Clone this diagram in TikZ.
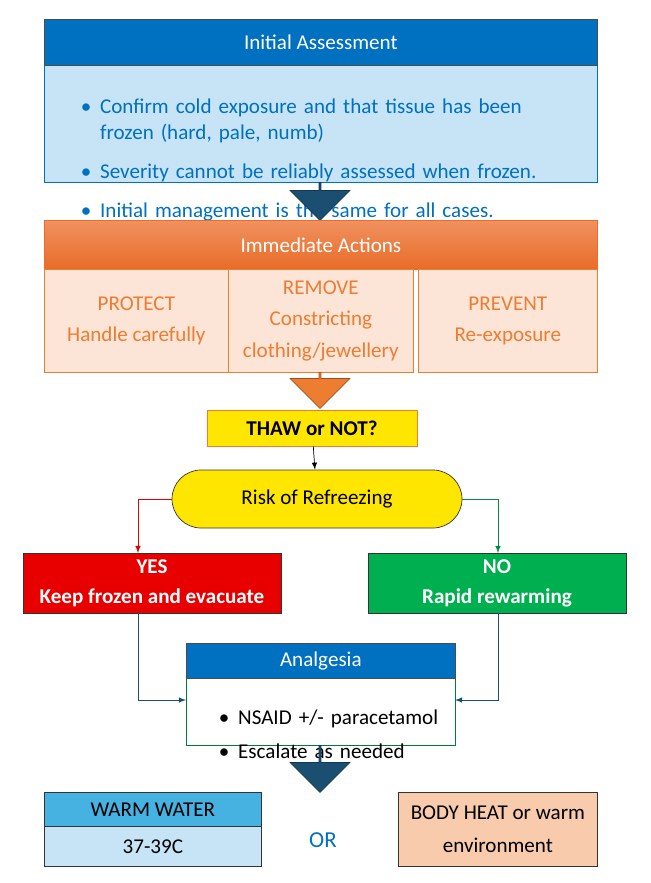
\documentclass[tikz,border=0pt]{standalone}
\usepackage{fontspec}
\setmainfont{Carlito}
\usetikzlibrary{shapes.arrows, positioning}
\definecolor{hdrblue}{RGB}{0,112,192}
\definecolor{paleblue}{RGB}{198,228,245}
\definecolor{navyarrow}{RGB}{27,79,114}
\definecolor{orangedark}{RGB}{233,108,40}
\definecolor{orangelight}{RGB}{240,145,95}
\definecolor{peach}{RGB}{252,228,214}
\definecolor{peachdark}{RGB}{248,203,173}
\definecolor{orangetext}{RGB}{237,125,49}
\definecolor{thawyellow}{RGB}{255,230,0}
\definecolor{yesred}{RGB}{232,0,0}
\definecolor{nogreen}{RGB}{0,176,80}
\definecolor{skyhdr}{RGB}{69,178,225}
\tikzset{
  box/.style={draw, rectangle, inner sep=0pt, font=\fontsize{12}{15}\selectfont},
  bigarrow/.style={single arrow, draw=navyarrow!70!black, fill=navyarrow, shape border rotate=270,
    minimum width=34pt, single arrow head extend=6pt, inner sep=0pt},
  link/.style={-latex, thin}
}
\begin{document}
\begin{tikzpicture}[x=0.02cm, y=-0.02cm]
    \useasboundingbox (0,0) rectangle (650,883);

    % Initial assessment
    \node[box, fill=paleblue, draw=hdrblue, minimum width=553*0.02cm, minimum height=117*0.02cm, anchor=north west] (assessbody) at (44,65) {};
    \node[box, fill=hdrblue, draw=black!70, text=white, minimum width=553*0.02cm, minimum height=46*0.02cm, anchor=north west] (assess) at (44,19) {Initial Assessment};
    \node[text=hdrblue, font=\fontsize{12}{15}\selectfont, anchor=north west, align=left, text width=500*0.02cm] (assesstext) at (50,67) {%
      \begin{itemize}\setlength{\itemsep}{3pt}\setlength{\leftmargin}{30pt}
      \item Confirm cold exposure and that tissue has been frozen (hard, pale, numb)
      \item Severity cannot be reliably assessed when frozen.
      \item Initial management is the same for all cases.
      \end{itemize}};

    \node[bigarrow, minimum height=38*0.02cm, anchor=north] (arrowone) at (320,182) {};

    % Immediate actions
    \node[box, top color=orangelight, bottom color=orangedark, draw=orangedark, text=white, minimum width=553*0.02cm, minimum height=49*0.02cm, anchor=north west] (actions) at (44,220) {Immediate Actions};
    \node[box, fill=peach, draw=orangetext, text=orangetext, align=center, minimum width=184*0.02cm, minimum height=103*0.02cm, anchor=north west] (protect) at (44,269) {PROTECT\\[3pt]Handle carefully};
    \node[box, fill=peach, draw=orangetext, text=orangetext, align=center, minimum width=185*0.02cm, minimum height=103*0.02cm, anchor=north west] (remove) at (228,269) {REMOVE\\[3pt]Constricting\\[3pt]clothing/jewellery};
    \node[box, fill=peach, draw=orangetext, text=orangetext, align=center, minimum width=179*0.02cm, minimum height=103*0.02cm, anchor=north west] (prevent) at (418,269) {PREVENT\\[3pt]Re-exposure};

    \node[bigarrow, fill=orangetext, draw=orangedark!70!black, minimum height=36*0.02cm, anchor=north] (arrowtwo) at (320,372) {};

    % Decision
    \node[box, fill=thawyellow, draw=orangetext, font=\fontsize{12}{15}\selectfont\bfseries, minimum width=210*0.02cm, minimum height=36*0.02cm] (thaw) at (312,428) {THAW or NOT?};
    \node[box, fill=thawyellow, draw=black!80, rounded corners=29*0.02cm, minimum width=290*0.02cm, minimum height=58*0.02cm] (risk) at (317,499) {Risk of Refreezing};
    \draw[link] (thaw) -- (risk);

    \node[box, fill=yesred, draw=black!80, text=white, font=\fontsize{12}{15}\selectfont\bfseries, align=center, minimum width=258*0.02cm, minimum height=60*0.02cm] (yes) at (152,583) {YES\\[2pt]Keep frozen and evacuate};
    \node[box, fill=nogreen, draw=black!80, text=white, font=\fontsize{12}{15}\selectfont\bfseries, align=center, minimum width=258*0.02cm, minimum height=60*0.02cm] (no) at (497,583) {NO\\[2pt]Rapid rewarming};
    \draw[link, draw=yesred] (risk.west) -| (138,553);
    \draw[link, draw=nogreen!80!black] (risk.east) -| (498,553);

    % Analgesia
    \node[box, fill=white, draw=nogreen!70!black, minimum width=269*0.02cm, minimum height=67*0.02cm, anchor=north west] (analgbody) at (186,678) {};
    \node[box, fill=hdrblue, draw=black!70, text=white, minimum width=269*0.02cm, minimum height=35*0.02cm, anchor=north west] (analg) at (186,643) {Analgesia};
    \node[font=\fontsize{12}{15}\selectfont, anchor=north west, align=left, text width=250*0.02cm] (analgtext) at (188,678) {%
      \begin{itemize}\setlength{\itemsep}{0pt}
      \item NSAID +/- paracetamol
      \item Escalate as needed
      \end{itemize}};
    \coordinate (analgin) at (186,700);
    \coordinate (analgout) at (455,700);
    \draw[link, draw=navyarrow] (138,613) |- (analgin);
    \draw[link, draw=navyarrow] (498,613) |- (analgout);

    \node[bigarrow, minimum height=47*0.02cm, anchor=north] (arrowthree) at (320,745) {};

    % Rewarming options
    \node[box, fill=skyhdr, draw=black!80, minimum width=217*0.02cm, minimum height=34*0.02cm, anchor=north west] (water) at (44,792) {WARM WATER};
    \node[box, fill=paleblue, draw=black!80, minimum width=217*0.02cm, minimum height=40*0.02cm, anchor=north west] (watertemp) at (44,826) {37-39C};
    \node[text=hdrblue, font=\fontsize{13}{15}\selectfont] (or) at (323,840) {OR};
    \node[box, fill=peachdark, draw=black!80, align=center, minimum width=199*0.02cm, minimum height=74*0.02cm, anchor=north west] (bodyheat) at (398,792) {BODY HEAT or warm\\[4pt]environment};
\end{tikzpicture}
\end{document}
